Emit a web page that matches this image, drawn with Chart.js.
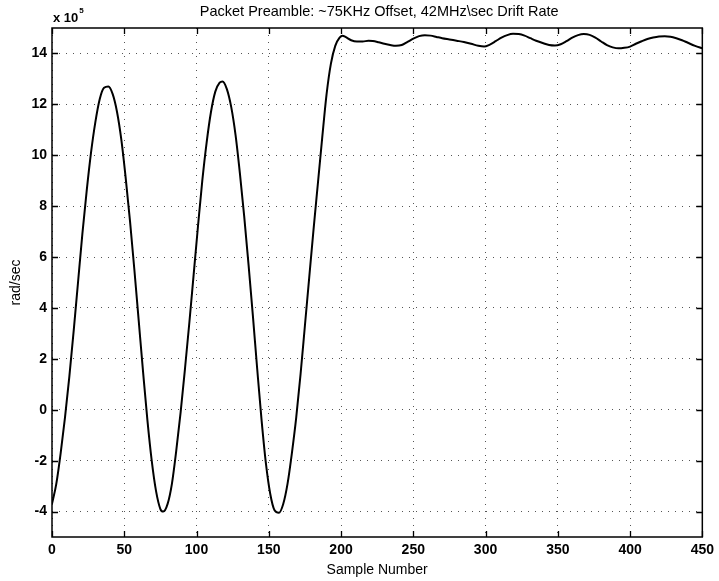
<!DOCTYPE html>
<html><head><meta charset="utf-8">
<script src="https://cdn.jsdelivr.net/npm/chart.js@4/dist/chart.umd.min.js"></script>
<style>html,body{margin:0;padding:0;background:#fff;}</style>
</head><body>
<canvas id="c" width="719" height="581"></canvas>
<script>
const chartTitle = 'Packet Preamble: ~75KHz Offset, 42MHz\\sec Drift Rate';
const xAxisTitle = 'Sample Number';
const yAxisTitle = 'rad/sec';
const yExponentBase = 'x 10';
const yExponent = '5';
const xTicks = [0, 50, 100, 150, 200, 250, 300, 350, 400, 450];
const yTicks = [-4, -2, 0, 2, 4, 6, 8, 10, 12, 14];

// sample index and frequency (rad/sec, in units of 1e5)
const sampleIndex = [
  0, 3, 6, 9, 12, 15, 18, 21, 24, 27, 30, 33, 36, 39, 42, 45, 48, 51, 54, 57, 60, 63, 66, 69, 72, 75, 77,
  80, 83, 86, 89, 92, 95, 98, 101, 104, 107, 110, 113, 116, 118, 121, 124, 127, 130, 133, 136, 139, 142, 145, 148, 151, 154, 157,
  160, 163, 166, 169, 172, 175, 178, 181, 184, 187, 190, 193, 196, 199, 201,
  203, 207, 211, 215, 219, 222, 226, 230, 234, 238, 242, 246, 250, 254, 258, 262, 266, 270, 275, 280, 285, 290, 295, 299,
  303, 307, 311, 315, 319, 323, 327, 331, 335, 340, 344, 348, 352, 356, 360, 364, 368, 372, 376, 380, 384, 388, 392, 396,
  400, 404, 408, 412, 416, 420, 424, 428, 432, 436, 440, 445, 450
];
const radPerSec = [
  -3.7, -2.9, -1.7, -0.3, 1.3, 3.1, 5.0, 6.9, 8.6, 10.1, 11.3, 12.2, 12.65, 12.7, 12.4, 11.7, 10.6, 9.1, 7.4, 5.5, 3.5, 1.5, -0.4, -2.0, -3.2, -3.9, -4.0,
  -3.7, -2.9, -1.6, -0.1, 1.6, 3.4, 5.3, 7.2, 9.0, 10.5, 11.7, 12.5, 12.85, 12.9, 12.6, 11.9, 10.8, 9.3, 7.6, 5.7, 3.7, 1.6, -0.4, -2.1, -3.3, -3.95, -4.05,
  -3.7, -2.9, -1.7, -0.3, 1.4, 3.3, 5.2, 7.1, 8.9, 10.7, 12.4, 13.6, 14.3, 14.62, 14.7,
  14.65, 14.52, 14.47, 14.47, 14.5, 14.49, 14.44, 14.38, 14.33, 14.3, 14.33, 14.45, 14.58, 14.68, 14.72, 14.7, 14.65, 14.6, 14.55, 14.5, 14.45, 14.38, 14.3, 14.27,
  14.35, 14.48, 14.62, 14.72, 14.77, 14.76, 14.7, 14.6, 14.5, 14.4, 14.33, 14.31, 14.36, 14.48, 14.62, 14.72, 14.76, 14.73, 14.62, 14.47, 14.33, 14.24, 14.2, 14.22,
  14.27, 14.38, 14.48, 14.57, 14.63, 14.67, 14.68, 14.66, 14.6, 14.52, 14.42, 14.3, 14.2
];

const points = sampleIndex.map((s, i) => ({ x: s, y: radPerSec[i] }));
const FONT = '"Liberation Sans", Arial, Helvetica, sans-serif';

const framePlugin = {
  id: 'frame',
  afterDraw(chart) {
    const { ctx, chartArea: a, scales: { x, y } } = chart;
    ctx.save();
    ctx.strokeStyle = '#000';
    ctx.lineWidth = 1.5;
    ctx.strokeRect(a.left, a.top, a.right - a.left, a.bottom - a.top);
    ctx.lineWidth = 1.3;
    const L = 6;
    ctx.beginPath();
    xTicks.forEach(v => {
      const px = Math.round(x.getPixelForValue(v)) + 0.5;
      ctx.moveTo(px, a.bottom); ctx.lineTo(px, a.bottom - L);
      ctx.moveTo(px, a.top); ctx.lineTo(px, a.top + L);
    });
    yTicks.forEach(v => {
      const py = Math.round(y.getPixelForValue(v)) + 0.5;
      ctx.moveTo(a.left, py); ctx.lineTo(a.left + L, py);
      ctx.moveTo(a.right, py); ctx.lineTo(a.right - L, py);
    });
    ctx.stroke();
    ctx.fillStyle = '#000';
    ctx.textAlign = 'center';
    ctx.textBaseline = 'middle';
    ctx.font = '14.5px ' + FONT;
    ctx.fillText(chartTitle, (a.left + a.right) / 2 + 2, 12);
    ctx.textAlign = 'left';
    ctx.textBaseline = 'alphabetic';
    ctx.font = 'bold 13px ' + FONT;
    ctx.fillText(yExponentBase, a.left + 1, 22);
    const w = ctx.measureText(yExponentBase).width;
    ctx.font = 'bold 8px ' + FONT;
    ctx.fillText(yExponent, a.left + 2 + w, 13);
    ctx.restore();
  }
};

new Chart(document.getElementById('c'), {
  type: 'line',
  data: {
    datasets: [{
      data: points,
      borderColor: '#000',
      borderWidth: 2,
      pointRadius: 0,
      fill: false,
      cubicInterpolationMode: 'monotone'
    }]
  },
  options: {
    responsive: false,
    animation: false,
    layout: { padding: { top: 28, right: 10, left: 0, bottom: 0 } },
    plugins: { legend: { display: false }, tooltip: { enabled: false } },
    scales: {
      x: {
        type: 'linear',
        min: 0, max: 450,
        afterBuildTicks: s => { s.ticks = xTicks.map(v => ({ value: v })); },
        afterFit: s => { s.height = 44; },
        grid: { color: '#555', lineWidth: 1, drawTicks: false },
        border: { display: false, dash: [1, 6] },
        ticks: { color: '#000', padding: 5, font: { family: FONT, size: 14, weight: 'bold' }, maxRotation: 0 },
        title: { display: true, text: xAxisTitle, color: '#000', padding: { top: 0, bottom: 2 }, font: { family: FONT, size: 14 } }
      },
      y: {
        type: 'linear',
        min: -5, max: 15,
        afterBuildTicks: s => { s.ticks = yTicks.map(v => ({ value: v })); },
        afterFit: s => { s.width = 52; },
        grid: { color: '#555', lineWidth: 1, drawTicks: false },
        border: { display: false, dash: [1, 6] },
        ticks: { color: '#000', padding: 5, font: { family: FONT, size: 14, weight: 'bold' } },
        title: { display: true, text: yAxisTitle, color: '#000', padding: { top: 8, bottom: 0 }, font: { family: FONT, size: 14 } }
      }
    }
  },
  plugins: [framePlugin]
});
</script>
</body></html>
